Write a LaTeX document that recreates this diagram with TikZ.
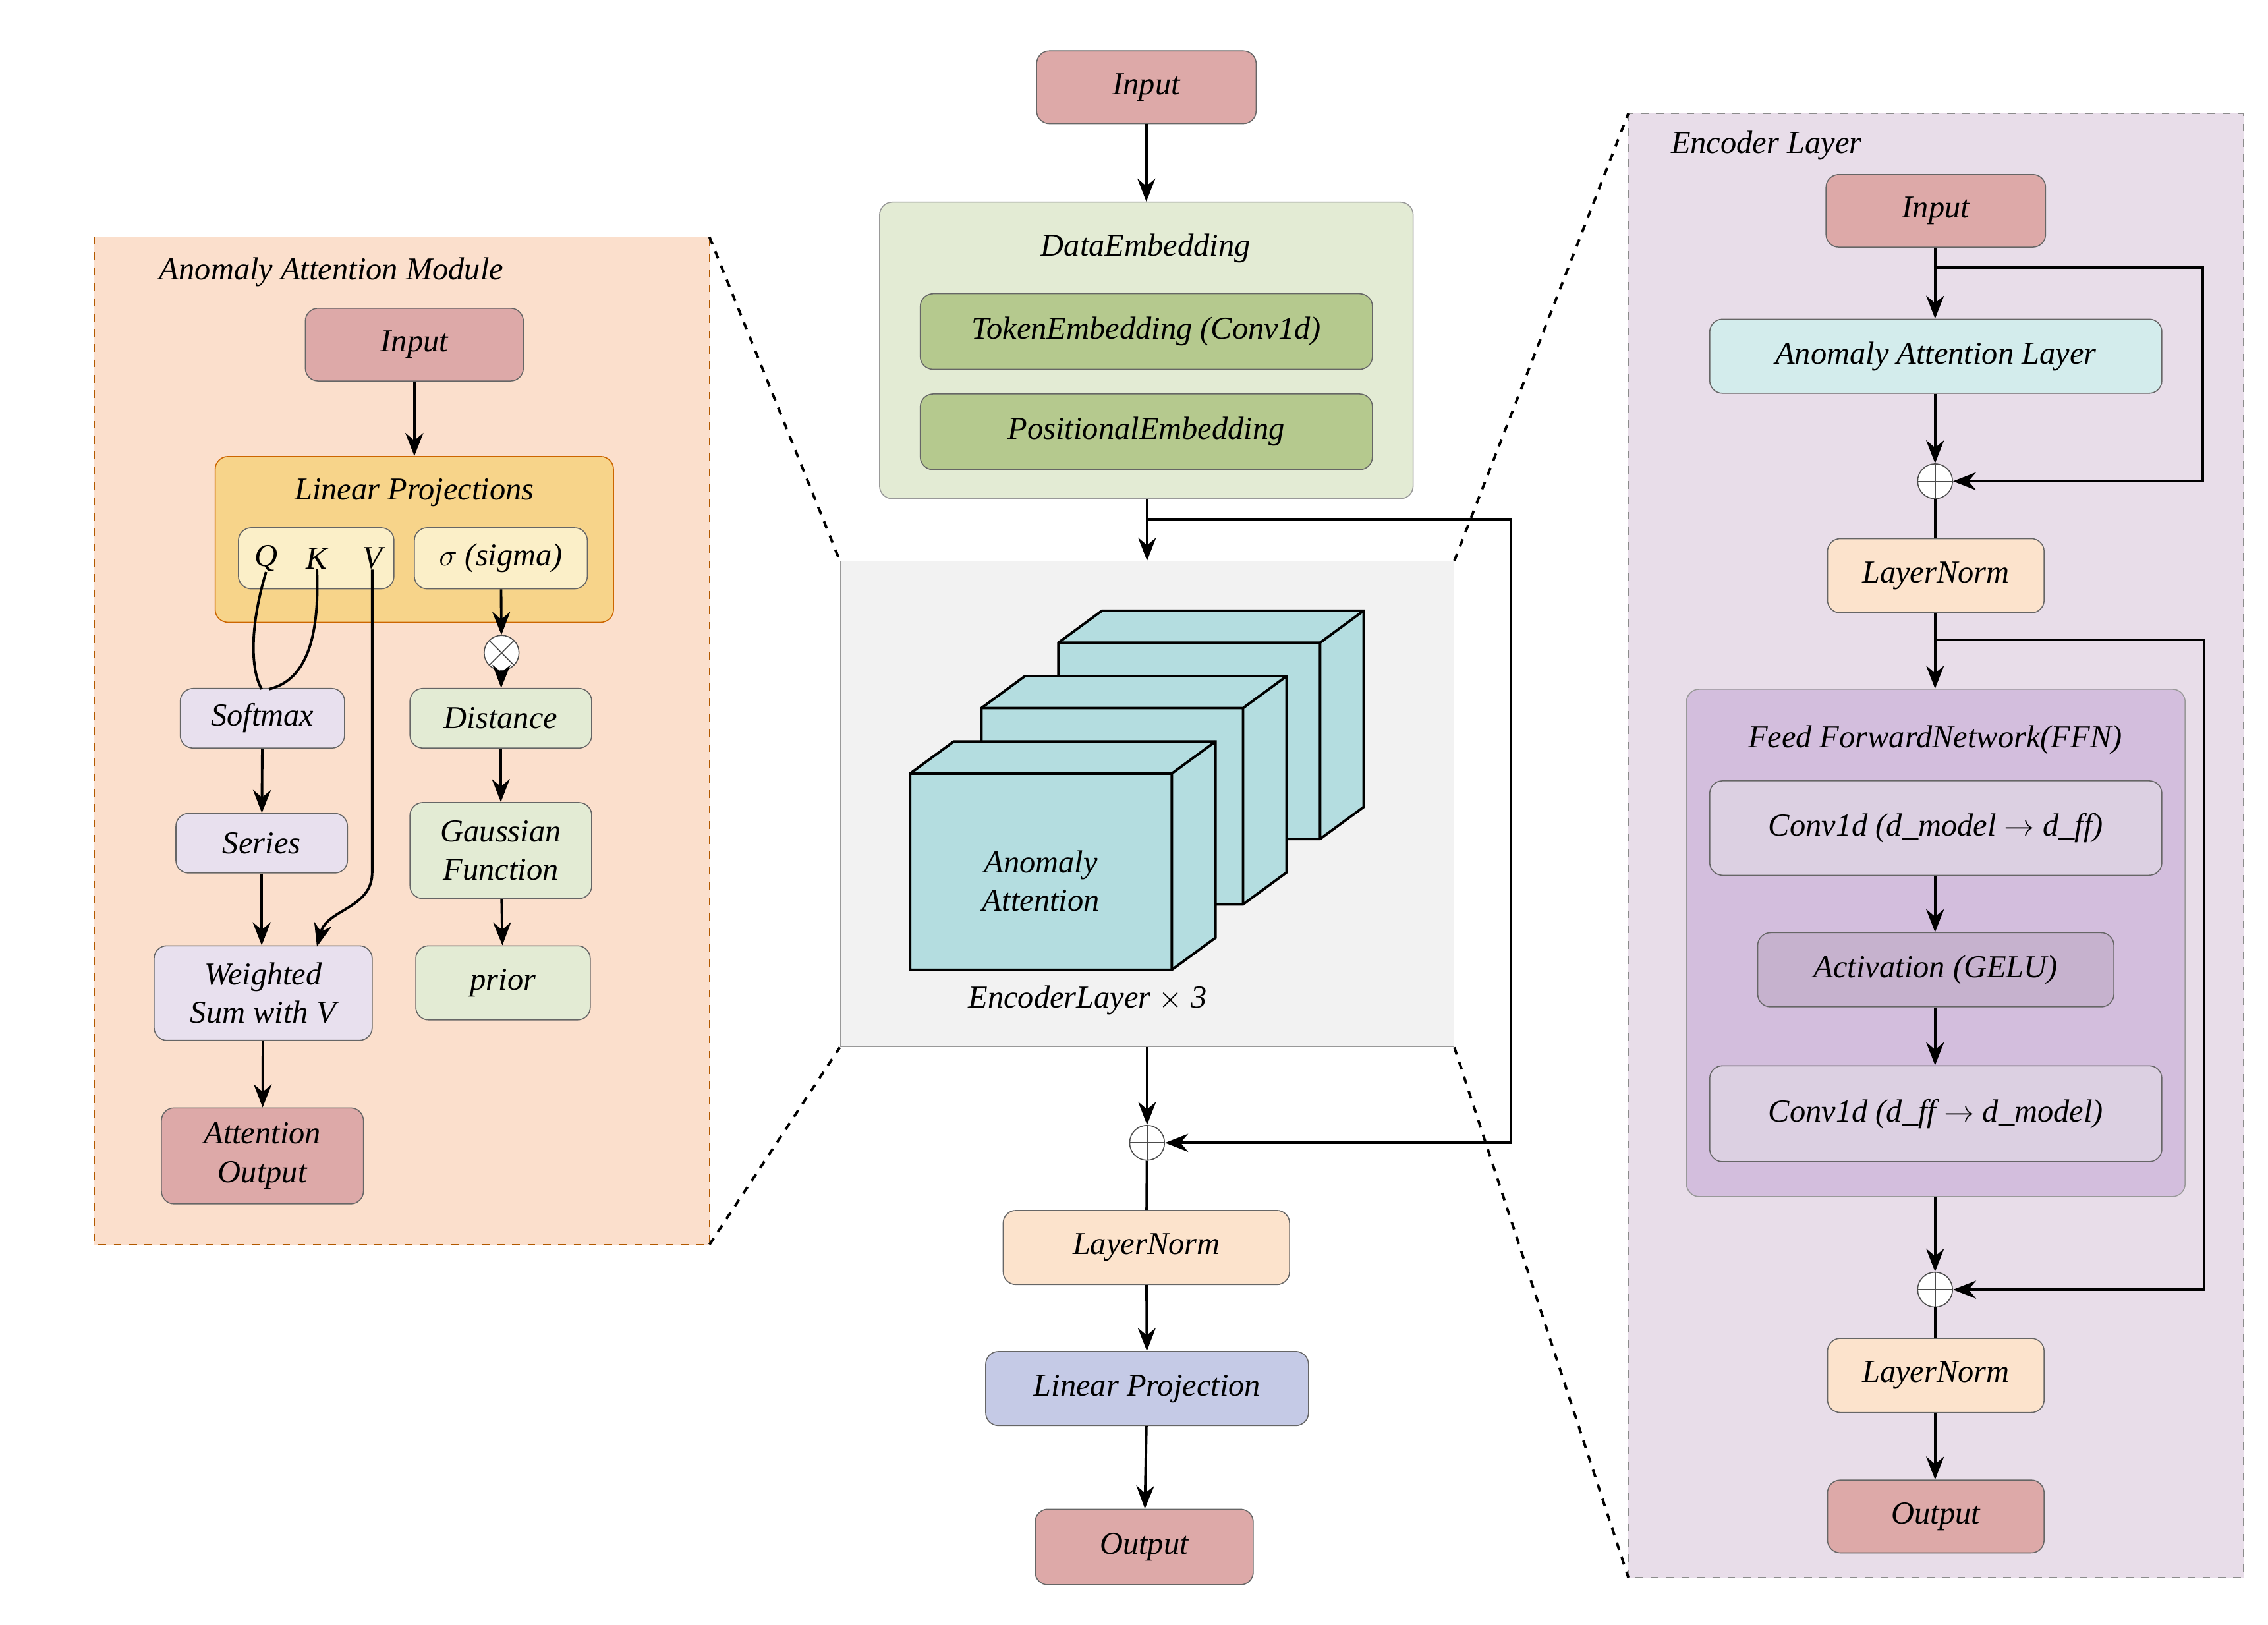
\documentclass[tikz,border=0pt]{standalone}
\usepackage{fontspec}
\setmainfont{Liberation Serif}
\usetikzlibrary{arrows.meta}
\definecolor{redb}{HTML}{DDA9A8}
\definecolor{peach}{HTML}{FBDFCC}
\definecolor{gold}{HTML}{F7D48A}
\definecolor{lyel}{HTML}{FBEFC8}
\definecolor{lav}{HTML}{E8E0EE}
\definecolor{lgreen}{HTML}{E3EBD4}
\definecolor{dgreen}{HTML}{B5C98E}
\definecolor{cyanb}{HTML}{B4DDE0}
\definecolor{lnorm}{HTML}{FCE3CC}
\definecolor{linp}{HTML}{C5CAE6}
\definecolor{rpanel}{HTML}{E8DDE9}
\definecolor{ffn}{HTML}{D3BEDD}
\definecolor{conv}{HTML}{DCD0E2}
\definecolor{act}{HTML}{C6B2CE}
\definecolor{aal}{HTML}{D3ECEC}
\tikzset{
 bx/.style={draw=black!60,rounded corners=5pt,font=\fontsize{12.5}{15}\selectfont\itshape,align=center,inner sep=0pt},
 lbl/.style={font=\fontsize{12.5}{15}\selectfont\itshape,inner sep=0pt},
 arr/.style={-{Stealth[length=9pt,width=7pt]},line width=1pt},
 ln/.style={line width=1pt},
 sumc/.style={draw=black!70,circle,minimum size=24*0.02cm,inner sep=0pt,fill=white,
   path picture={\draw[black!70] (path picture bounding box.north)--(path picture bounding box.south) (path picture bounding box.west)--(path picture bounding box.east);}},
 mulc/.style={draw=black!70,circle,minimum size=24*0.02cm,inner sep=0pt,fill=white,
   path picture={\draw[black!70] (path picture bounding box.north west)--(path picture bounding box.south east) (path picture bounding box.south west)--(path picture bounding box.north east);}},
}
\newcommand{\bxat}[5]{\node[bx,fill=#5,minimum width={(#3)*0.02cm},minimum height={(#4)*0.02cm}] (#1) at (#2) {#1text};}
\begin{document}
\begin{tikzpicture}[x=0.02cm,y=-0.02cm]
\useasboundingbox (0,0) rectangle (1560,1117.6);
% left panel
\draw[dashed,draw=orange!70!black,fill=peach] (65,163) rectangle (488,856);
\node[lbl] at (228,187) {Anomaly Attention Module};
\node[bx,fill=redb,minimum width=3cm,minimum height=1cm] (lin) at (285,237) {Input};
\node[bx,fill=gold,draw=orange!80!black,minimum width=274*0.02cm,minimum height=114*0.02cm] (lp) at (285,371) {};
\node[lbl] at (285,339) {Linear Projections};
\node[bx,fill=lyel,minimum width=107*0.02cm,minimum height=42*0.02cm] (qkv) at (217.5,384) {};
\node[lbl] (q) at (183,384) {Q};
\node[lbl] (k) at (218,384) {K};
\node[lbl] (v) at (256,384) {V};
\node[bx,fill=lyel,minimum width=119*0.02cm,minimum height=42*0.02cm] (sig) at (344.5,384) {$\sigma$ (sigma)};
\node[mulc] (mul) at (345,449) {};
\node[bx,fill=lav,minimum width=113*0.02cm,minimum height=41*0.02cm] (soft) at (180.5,494) {Softmax};
\node[bx,fill=lgreen,minimum width=125*0.02cm,minimum height=41*0.02cm] (dist) at (344.5,494) {Distance};
\node[bx,fill=lav,minimum width=118*0.02cm,minimum height=41*0.02cm] (ser) at (180,580) {Series};
\node[bx,fill=lgreen,minimum width=125*0.02cm,minimum height=66*0.02cm] (gau) at (344.5,585) {Gaussian\\Function};
\node[bx,fill=lav,minimum width=150*0.02cm,minimum height=65*0.02cm] (ws) at (181,683) {Weighted\\Sum with V};
\node[bx,fill=lgreen,minimum width=120*0.02cm,minimum height=51*0.02cm] (pri) at (346,676) {prior};
\node[bx,fill=redb,minimum width=139*0.02cm,minimum height=66*0.02cm] (ao) at (180.5,795) {Attention\\Output};
\draw[arr] (lin) -- (lp);
\draw[arr] (sig) -- (mul);
\draw[arr] (mul) -- (dist);
\draw[arr] (dist) -- (gau);
\draw[arr] (gau) -- (pri);
\draw[ln] (q.south) .. controls (172,430) and (172,460) .. (180,474);
\draw[ln] (k.south) .. controls (220,440) and (210,468) .. (185,474);
\draw[arr] (v.south) -- (256,600) .. controls (256,625) and (225,625) .. (218,651);
\draw[arr] (soft) -- (ser);
\draw[arr] (ser) -- (ws.north -| ser);
\draw[arr] (ws) -- (ao);
% center
\node[bx,fill=redb,minimum width=151*0.02cm,minimum height=50*0.02cm] (cin) at (788.5,60) {Input};
\node[bx,fill=lgreen,draw=black!40,minimum width=367*0.02cm,minimum height=204*0.02cm] (de) at (788.5,241) {};
\node[lbl] at (788,171) {DataEmbedding};
\node[bx,fill=dgreen,minimum width=311*0.02cm,minimum height=52*0.02cm] (te) at (788.5,228) {TokenEmbedding (Conv1d)};
\node[bx,fill=dgreen,minimum width=311*0.02cm,minimum height=52*0.02cm] (pe) at (788.5,297) {PositionalEmbedding};
\draw[arr] (cin) -- (de);
\node[draw=black!40,fill=black!5,minimum width=422*0.02cm,minimum height=334*0.02cm,inner sep=0pt] (enc) at (789,553) {};
\draw[arr] (789,343) -- (enc.north -| 789,0);
\foreach \dx/\dy in {102/-90,49/-45,0/0}{
 \begin{scope}[shift={(\dx,\dy)}]
 \draw[line width=1pt,fill=cyanb] (626,532) -- (656,510) -- (836,510) -- (836,645) -- (806,667) -- (626,667) -- cycle;
 \draw[line width=1pt] (626,532) -- (806,532) -- (836,510) (806,532) -- (806,667);
 \end{scope}}
\node[lbl,align=center] at (716,606) {Anomaly\\Attention};
\node[lbl] at (748,688) {EncoderLayer $\times$ 3};
\node[sumc] (cs) at (789,786) {};
\draw[arr] (enc.south -| 789,0) -- (cs);
\draw[arr] (789,357) -- (1039,357) -- (1039,786) -- (cs);
\node[bx,fill=lnorm,minimum width=197*0.02cm,minimum height=51*0.02cm] (cln) at (788.5,858) {LayerNorm};
\node[bx,fill=linp,minimum width=222*0.02cm,minimum height=51*0.02cm] (clp) at (789,955) {Linear Projection};
\node[bx,fill=redb,minimum width=150*0.02cm,minimum height=52*0.02cm] (cout) at (787,1064) {Output};
\draw[ln] (cs) -- (cln);
\draw[arr] (cln) -- (clp);
\draw[arr] (clp) -- (cout);
% dashed zoom lines
\draw[dashed,line width=1pt] (488,163) -- (enc.north west) (488,856) -- (enc.south west);
% right panel
\draw[dashed,draw=black!45,fill=rpanel] (1120,78) rectangle (1543,1085);
\draw[dashed,line width=1pt] (enc.north east) -- (1120,78) (enc.south east) -- (1120,1085);
\node[lbl] at (1215,100) {Encoder Layer};
\node[bx,fill=redb,minimum width=151*0.02cm,minimum height=50*0.02cm] (rin) at (1331.5,145) {Input};
\node[bx,fill=aal,minimum width=311*0.02cm,minimum height=51*0.02cm] (raal) at (1331.5,245) {Anomaly Attention Layer};
\node[sumc] (rs1) at (1331,331) {};
\node[bx,fill=lnorm,minimum width=149*0.02cm,minimum height=51*0.02cm] (rln1) at (1331.5,396) {LayerNorm};
\node[bx,fill=ffn,draw=black!40,minimum width=343*0.02cm,minimum height=349*0.02cm] (ffn) at (1331.5,648.5) {};
\node[lbl] at (1331,509) {Feed ForwardNetwork(FFN)};
\node[bx,fill=conv,minimum width=311*0.02cm,minimum height=65*0.02cm] (c1) at (1331.5,569.5) {Conv1d (d\_model $\rightarrow$ d\_ff)};
\node[bx,fill=act,minimum width=245*0.02cm,minimum height=51*0.02cm] (ac) at (1331.5,667) {Activation (GELU)};
\node[bx,fill=conv,minimum width=311*0.02cm,minimum height=66*0.02cm] (c2) at (1331.5,766) {Conv1d (d\_ff $\rightarrow$ d\_model)};
\node[sumc] (rs2) at (1331,887) {};
\node[bx,fill=lnorm,minimum width=149*0.02cm,minimum height=51*0.02cm] (rln2) at (1331.5,946) {LayerNorm};
\node[bx,fill=redb,minimum width=149*0.02cm,minimum height=50*0.02cm] (rout) at (1331.5,1043) {Output};
\draw[arr] (rin.south -| 1331,0) -- (raal.north -| 1331,0);
\draw[arr] (1331,184) -- (1515,184) -- (1515,331) -- (rs1);
\draw[arr] (raal.south -| 1331,0) -- (rs1);
\draw[ln] (rs1) -- (rln1.north -| 1331,0);
\draw[arr] (rln1.south -| 1331,0) -- (ffn.north -| 1331,0);
\draw[arr] (1331,440) -- (1516,440) -- (1516,887) -- (rs2);
\draw[arr] (c1.south -| 1331,0) -- (ac.north -| 1331,0);
\draw[arr] (ac.south -| 1331,0) -- (c2.north -| 1331,0);
\draw[arr] (ffn.south -| 1331,0) -- (rs2);
\draw[ln] (rs2) -- (rln2.north -| 1331,0);
\draw[arr] (rln2.south -| 1331,0) -- (rout.north -| 1331,0);
\end{tikzpicture}
\end{document}
